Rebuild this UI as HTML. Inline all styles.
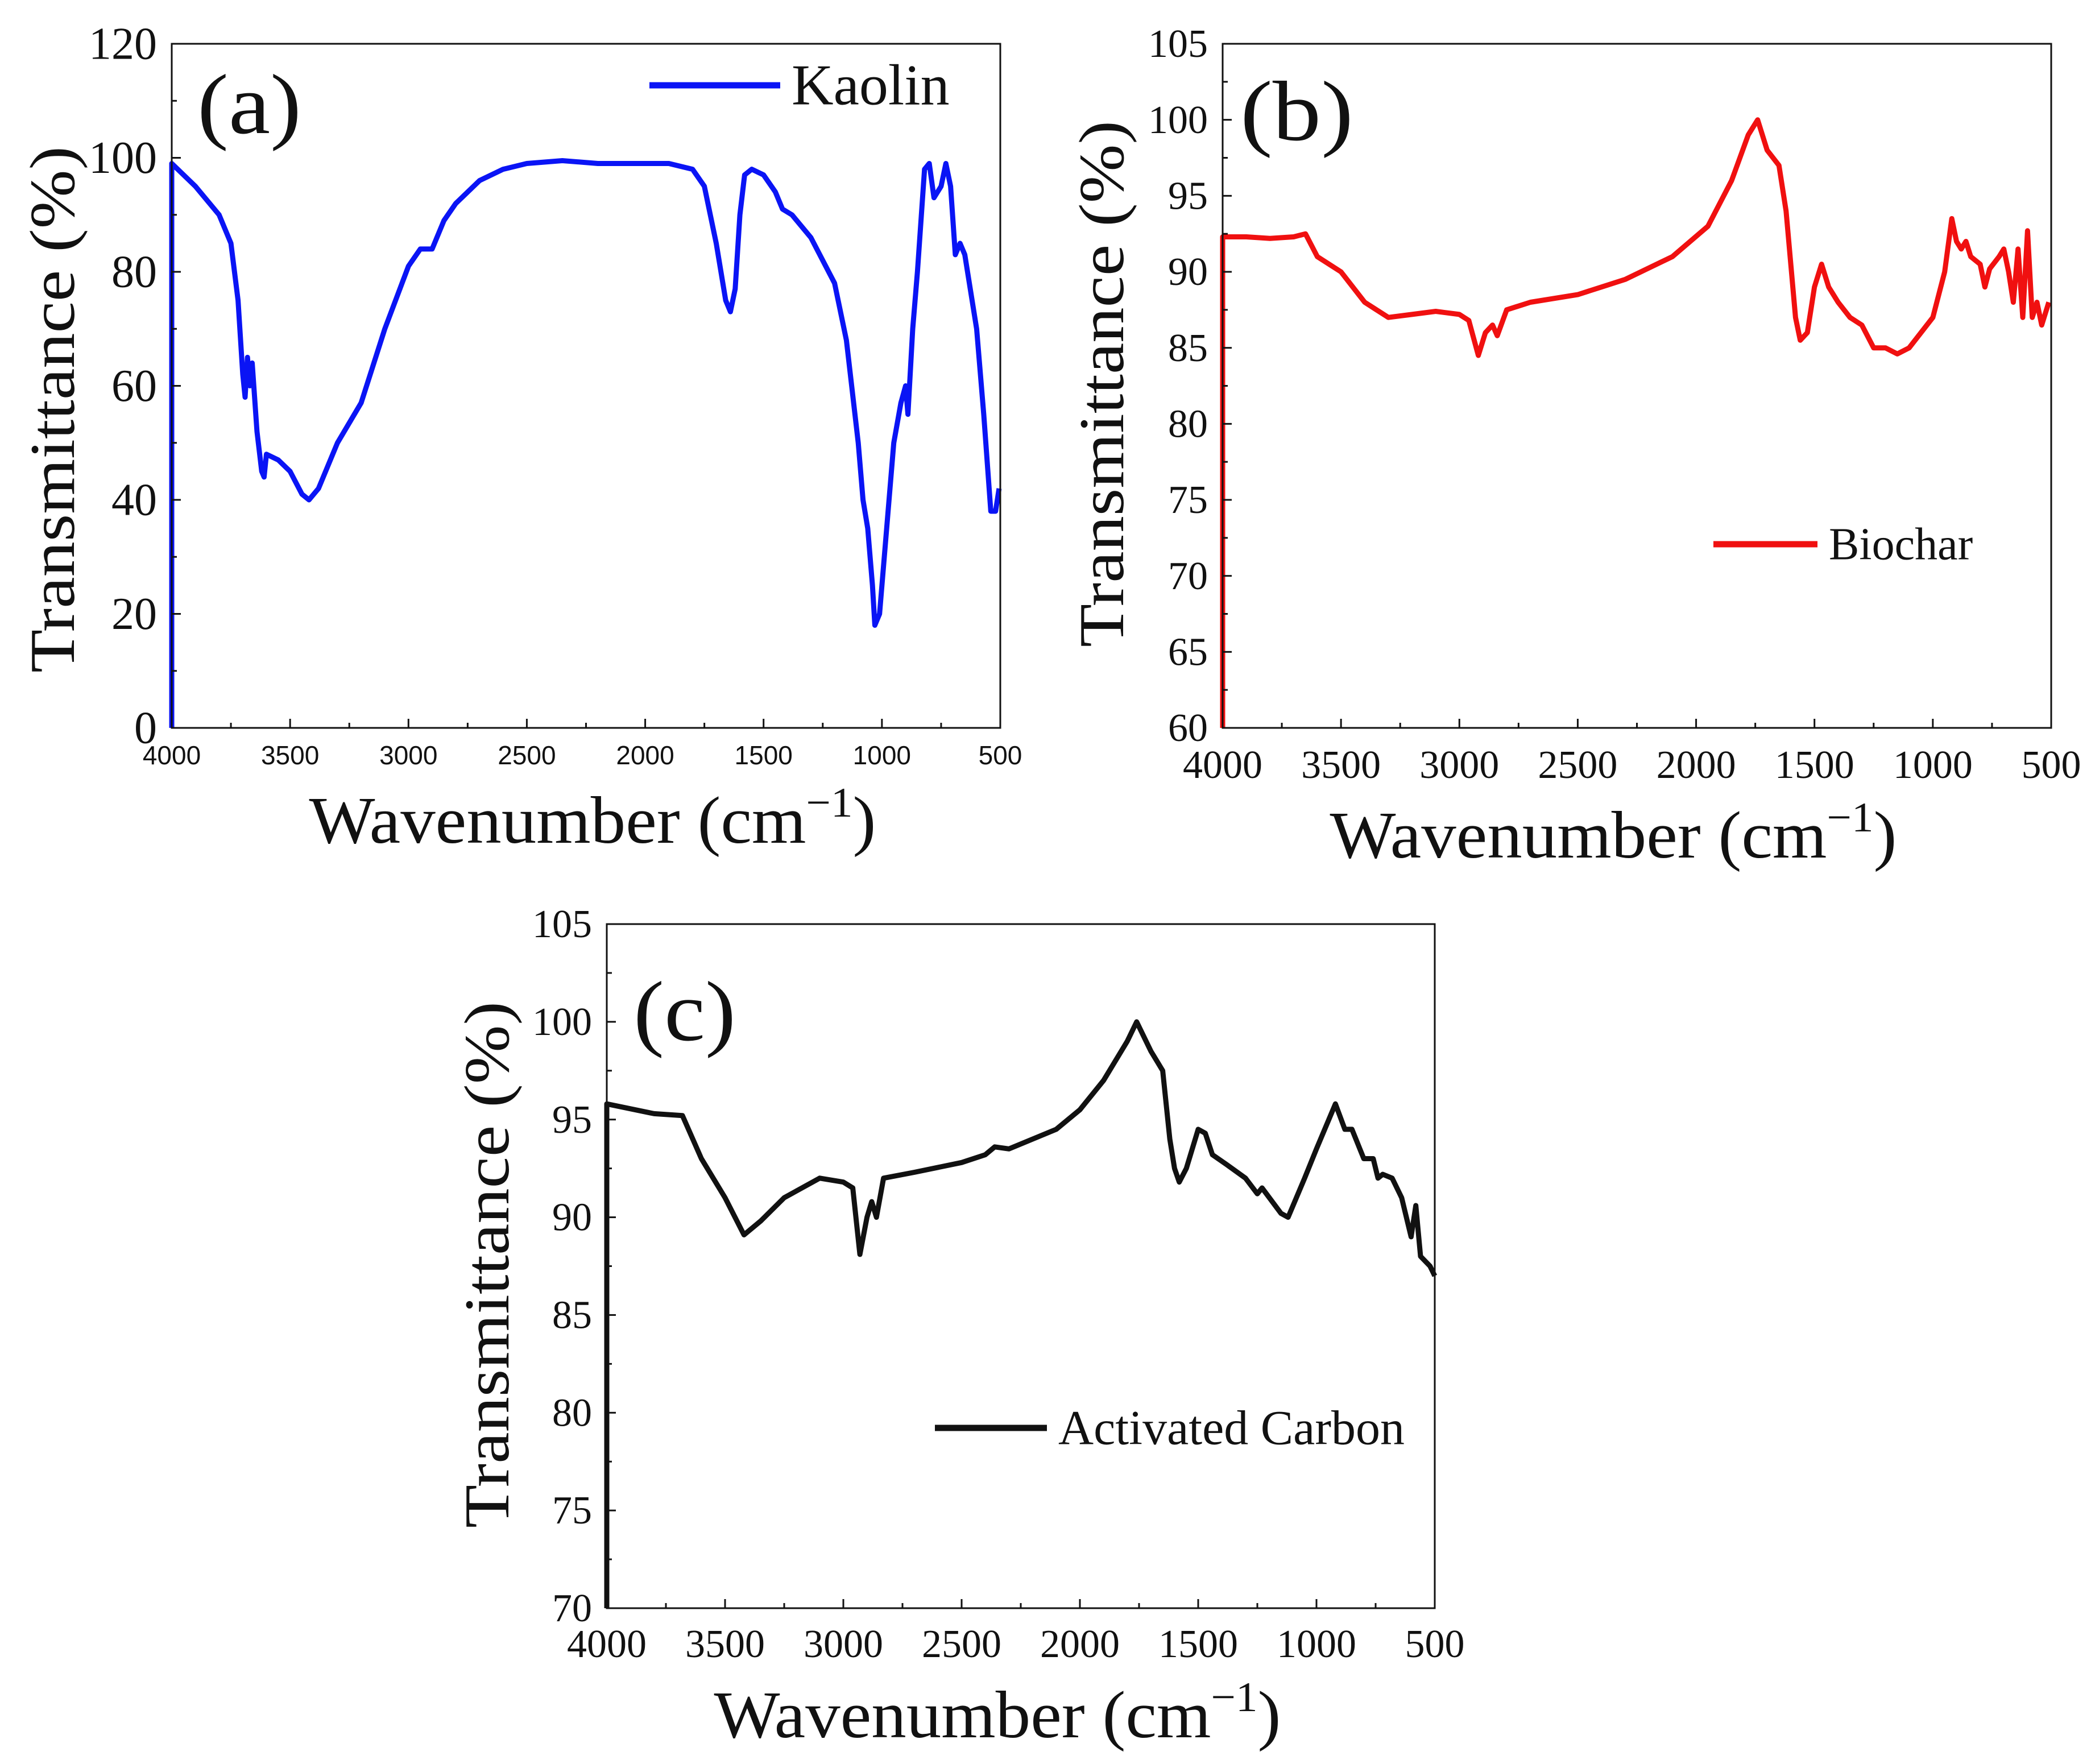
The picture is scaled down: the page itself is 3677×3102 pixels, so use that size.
<!DOCTYPE html>
<html><head><meta charset="utf-8">
<style>
html,body{margin:0;padding:0;background:#fff;}
svg{display:block;}
text{font-family:"Liberation Serif",serif;fill:#111;}
.sans{font-family:"Liberation Sans",sans-serif;}
</style></head>
<body>
<svg id="fig" width="3677" height="3102" viewBox="0 0 3677 3102" xmlns="http://www.w3.org/2000/svg"></svg>
<script>
// ---- data ----
const xTicks = [4000,3500,3000,2500,2000,1500,1000,500];
const kaolinYTicks = [0,20,40,60,80,100,120];
const biocharYTicks = [60,65,70,75,80,85,90,95,100,105];
const carbonYTicks = [70,75,80,85,90,95,100,105];

const kaolinWave = [4000,4000,3900,3800,3750,3720,3700,3690,3680,3670,3660,3640,3620,3610,3600,3550,3500,3450,3420,3380,3300,3200,3100,3000,2950,2900,2880,2850,2800,2700,2600,2500,2350,2200,1900,1800,1750,1700,1660,1640,1620,1600,1580,1550,1500,1450,1420,1380,1300,1200,1150,1100,1080,1060,1040,1030,1010,980,950,920,900,890,870,850,820,800,780,750,730,710,690,670,650,600,570,540,520,505];
const kaolinT = [0,99,95,90,85,75,62,58,65,60,64,52,45,44,48,47,45,41,40,42,50,57,70,81,84,84,86,89,92,96,98,99,99.5,99,99,98,95,85,75,73,77,90,97,98,97,94,91,90,86,78,68,50,40,35,25,18,20,35,50,57,60,55,70,80,98,99,93,95,99,95,83,85,83,70,55,38,38,42];

const biocharWave = [4000,4000,3900,3800,3700,3650,3600,3500,3400,3300,3200,3100,3000,2960,2920,2890,2860,2840,2800,2700,2500,2300,2100,1950,1850,1780,1740,1700,1650,1620,1580,1560,1530,1500,1470,1440,1400,1350,1300,1250,1200,1150,1100,1000,950,920,900,880,860,840,800,780,760,720,700,680,660,640,620,600,580,560,540,510];
const biocharT = [60,92.3,92.3,92.2,92.3,92.5,91,90,88,87,87.2,87.4,87.2,86.8,84.5,86,86.5,85.8,87.5,88,88.5,89.5,91,93,96,99,100,98,97,94,87,85.5,86,89,90.5,89,88,87,86.5,85,85,84.6,85,87,90,93.5,92,91.5,92,91,90.5,89,90.2,91,91.5,90,88,91.5,87,92.7,87,88,86.5,88];

const carbonWave = [4000,4000,3800,3680,3600,3500,3420,3350,3250,3100,3000,2960,2930,2900,2880,2860,2830,2700,2500,2400,2360,2300,2100,2000,1900,1800,1760,1700,1650,1620,1600,1580,1550,1500,1470,1440,1380,1300,1250,1230,1150,1120,1050,1000,920,880,850,800,760,740,720,680,640,600,580,560,520,500];
const carbonT = [70,95.8,95.3,95.2,93,91,89.1,89.8,91,92,91.8,91.5,88.1,90,90.8,90,92,92.3,92.8,93.2,93.6,93.5,94.5,95.5,97,99,100,98.5,97.5,94,92.5,91.8,92.5,94.5,94.3,93.2,92.7,92,91.2,91.5,90.2,90,92,93.5,95.8,94.5,94.5,93,93,92,92.2,92,91,89,90.6,88,87.5,87];

const NS="http://www.w3.org/2000/svg";
const svg=document.getElementById('fig');
function mk(tag,attrs,parent){const e=document.createElementNS(NS,tag);for(const k in attrs)e.setAttribute(k,attrs[k]);(parent||svg).appendChild(e);return e;}

function panel(o){
  const g=mk('g',{});
  
  
  const X=w=>o.x0+(4000-w)/3500*(o.x1-o.x0);
  const Y=v=>o.y1-(v-o.ymin)/(o.ymax-o.ymin)*(o.y1-o.y0);
  let d='';
  o.wave.forEach((w,i)=>{d+=(i?'L':'M')+X(w).toFixed(1)+','+Y(o.vals[i]).toFixed(1);});
  const p=mk('path',{d:d,fill:'none',stroke:o.color,'stroke-width':9,'stroke-linejoin':'round'},g);
  
  
  const f=mk('rect',{x:o.x0,y:o.y0,width:o.x1-o.x0,height:o.y1-o.y0,fill:'none',stroke:'#111','stroke-width':3},g);
  
  
  xTicks.forEach((t,i)=>{
    const x=X(t);
    mk('line',{x1:x,x2:x,y1:o.y1,y2:o.y1-16,stroke:'#111','stroke-width':3},g);
    if(i<xTicks.length-1){const xm=X(t-250);mk('line',{x1:xm,x2:xm,y1:o.y1,y2:o.y1-9,stroke:'#111','stroke-width':3},g);}
    const tx=mk('text',{x:x,y:o.y1+o.xtOff,'text-anchor':'middle','font-size':o.xtSize},g);
    if(o.sansX)tx.setAttribute('class','sans');
    tx.textContent=t;
    
    
  });
  const step=o.yt[1]-o.yt[0];
  o.yt.forEach((t,i)=>{
    const y=Y(t);
    mk('line',{x1:o.x0,x2:o.x0+16,y1:y,y2:y,stroke:'#111','stroke-width':3},g);
    if(i<o.yt.length-1){const ym=Y(t+step/2);mk('line',{x1:o.x0,x2:o.x0+9,y1:ym,y2:ym,stroke:'#111','stroke-width':3},g);}
    const ty=mk('text',{x:o.x0-26,y:y+o.ytSize*0.33,'text-anchor':'end','font-size':o.ytSize},g);
    ty.textContent=t;
    
    
  });
  const yt=mk('text',{x:0,y:0,'text-anchor':'middle','font-size':112,textLength:926,lengthAdjust:'spacingAndGlyphs',transform:`translate(${o.ytx},${o.yty}) rotate(-90)`},g);
  yt.textContent='Transmittance (%)';
  
  
  const xt=mk('text',{x:o.xtx,y:o.xty,'text-anchor':'middle','font-size':118,textLength:997,lengthAdjust:'spacingAndGlyphs'},g);
  xt.innerHTML='Wavenumber (cm<tspan dy="-46" font-size="74">−1</tspan><tspan dy="46">)</tspan>';
  
  
  const pl=mk('text',{x:o.lx,y:o.ly,'font-size':150,textLength:o.lw,lengthAdjust:'spacingAndGlyphs'},g);
  pl.textContent=o.label;
  
  
  const lg=mk('g',{},g);
  
  
  mk('line',{x1:o.leg[0],x2:o.leg[1],y1:o.leg[2],y2:o.leg[2],stroke:o.color,'stroke-width':11},lg);
  const lt=mk('text',{x:o.leg[1]+20,y:o.leg[2]+o.legSize*0.33,'font-size':o.legSize},lg);
  lt.textContent=o.series;
}

panel({name:'panel-a-kaolin',series:'Kaolin',color:'#0a14f5',wave:kaolinWave,vals:kaolinT,
  x0:302,x1:1759,y0:77,y1:1280,ymin:0,ymax:120,yt:kaolinYTicks,
  xtOff:64,xtSize:46,sansX:true,ytSize:80,ytx:130,yty:720,xtx:1042,xty:1482,
  label:'(a)',lw:183,lx:347,ly:234,leg:[1142,1372,150],legSize:102});
panel({name:'panel-b-biochar',series:'Biochar',color:'#f01010',wave:biocharWave,vals:biocharT,
  x0:2150,x1:3607,y0:77,y1:1280,ymin:60,ymax:105,yt:biocharYTicks,
  xtOff:88,xtSize:70,sansX:false,ytSize:70,ytx:1975,yty:675,xtx:2837,xty:1508,
  label:'(b)',lw:199,lx:2181,ly:246,leg:[3013,3196,957],legSize:80});
panel({name:'panel-c-activated-carbon',series:'Activated Carbon',color:'#111',wave:carbonWave,vals:carbonT,
  x0:1067,x1:2523,y0:1625,y1:2828,ymin:70,ymax:105,yt:carbonYTicks,
  xtOff:86,xtSize:70,sansX:false,ytSize:70,ytx:894,yty:2224,xtx:1754,xty:3055,
  label:'(c)',lw:180,lx:1114,ly:1829,leg:[1644,1841,2511],legSize:86});
</script>
</body></html>
